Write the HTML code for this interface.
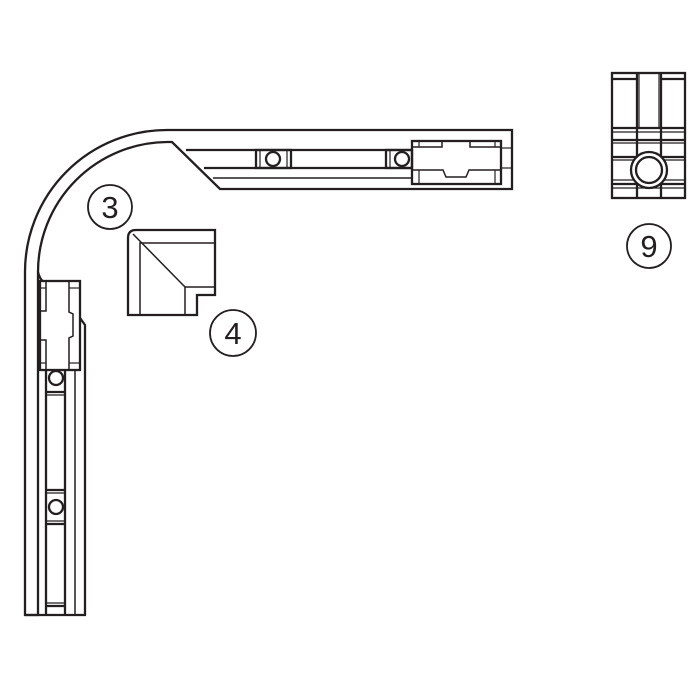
<!DOCTYPE html>
<html><head><meta charset="utf-8"><style>body{margin:0;background:#fff}svg{display:block}</style></head><body>
<svg width="700" height="700" viewBox="0 0 700 700" xmlns="http://www.w3.org/2000/svg" fill="none" stroke="#231f20" stroke-width="2.3">
<!-- bend outer -->
<path d="M25,615 L25,272 A142,142 0 0 1 167,130 L512,130 L512,189 L220,189 L172,142 L167,142 A130,130 0 0 0 38,272 L38,615 Z"/>
<line x1="25" y1="615" x2="86" y2="615"/>
<path d="M38,272 Q40,280 44,282"/>
<!-- top track internals -->
<line x1="186" y1="150" x2="412" y2="150"/>
<line x1="204" y1="168" x2="412" y2="168"/>
<line x1="213" y1="178" x2="412" y2="178" stroke-width="1.5"/>
<rect x="256" y="150" width="35" height="18"/>
<line x1="260" y1="150" x2="260" y2="168" stroke-width="1.2"/>
<line x1="287" y1="150" x2="287" y2="168" stroke-width="1.2"/>
<circle cx="273" cy="159" r="7"/>
<rect x="386" y="150" width="26" height="18"/>
<line x1="390" y1="150" x2="390" y2="168" stroke-width="1.2"/>
<circle cx="402" cy="159" r="7"/>
<!-- top connector -->
<rect x="412" y="141" width="89" height="43"/>
<path d="M412,147 L442,147 L442,141 M470,141 L470,147 L501,147" stroke-width="1.5"/>
<path d="M412,170 L443,170 L446,177 L466,177 L469,170 L501,170" stroke-width="1.5"/>
<line x1="419" y1="141" x2="419" y2="147" stroke-width="1.2"/>
<line x1="419" y1="170" x2="419" y2="184" stroke-width="1.2"/>
<line x1="495" y1="141" x2="495" y2="147" stroke-width="1.2"/>
<line x1="495" y1="170" x2="495" y2="184" stroke-width="1.2"/>
<line x1="501" y1="148" x2="512" y2="148" stroke-width="1.2"/>
<line x1="501" y1="168" x2="512" y2="168" stroke-width="1.2"/>
<!-- left vertical internals -->
<path d="M80,318 L85,325 L85,615"/>
<line x1="46" y1="370" x2="46" y2="615"/>
<line x1="65" y1="370" x2="65" y2="615"/>
<line x1="75" y1="370" x2="75" y2="615" stroke-width="1.5"/>
<circle cx="56" cy="378" r="7"/>
<line x1="47" y1="392" x2="64" y2="392"/><line x1="47" y1="395" x2="64" y2="395" stroke-width="1.2"/>
<line x1="47" y1="490" x2="64" y2="490"/><line x1="47" y1="493" x2="64" y2="493" stroke-width="1.2"/>
<circle cx="56" cy="507" r="7"/>
<line x1="47" y1="521" x2="64" y2="521" stroke-width="1.2"/><line x1="47" y1="524" x2="64" y2="524"/>
<line x1="47" y1="603" x2="64" y2="603" stroke-width="1.2"/><line x1="47" y1="606" x2="64" y2="606"/>
<!-- left connector -->
<rect x="40" y="281" width="40" height="89" fill="#fff"/>
<path d="M46,281 L46,311 L40,311 M40,340 L46,340 L46,370" stroke-width="1.5"/>
<path d="M69,281 L69,312 L73,314 L73,336 L69,338 L69,370" stroke-width="1.5"/>
<line x1="40" y1="288" x2="46" y2="288" stroke-width="1.2"/>
<line x1="69" y1="288" x2="80" y2="288" stroke-width="1.2"/>
<line x1="40" y1="363" x2="46" y2="363" stroke-width="1.2"/>
<line x1="69" y1="363" x2="80" y2="363" stroke-width="1.2"/>
<!-- piece 4 -->
<path d="M136,230 L215,230 L215,295 L197,295 L197,315 L128,315 L128,238 Q128,230 136,230 Z"/>
<line x1="133" y1="234" x2="185" y2="287" stroke-width="1.5"/>
<path d="M140,315 L140,243 L215,243" stroke-width="1.5"/>
<path d="M185,315 L185,287 L197,287 M197,287 L215,287" stroke-width="1.5"/>
<!-- piece 9 -->
<rect x="612" y="73" width="73" height="125"/>
<line x1="612" y1="79" x2="637" y2="79"/><line x1="661" y1="79" x2="685" y2="79"/>
<line x1="637" y1="73" x2="637" y2="198"/><line x1="639" y1="73" x2="639" y2="128" stroke-width="1.2"/>
<line x1="661" y1="73" x2="661" y2="198"/><line x1="659" y1="73" x2="659" y2="128" stroke-width="1.2"/>
<line x1="612" y1="128" x2="685" y2="128"/><line x1="612" y1="132" x2="685" y2="132" stroke-width="1.2"/>
<line x1="612" y1="140" x2="685" y2="140"/><line x1="612" y1="143" x2="685" y2="143" stroke-width="1.2"/>
<line x1="612" y1="157" x2="685" y2="157"/><line x1="612" y1="160" x2="685" y2="160" stroke-width="1.2"/>
<line x1="612" y1="180" x2="685" y2="180" stroke-width="1.2"/><line x1="612" y1="184" x2="685" y2="184"/>
<line x1="612" y1="188" x2="685" y2="188" stroke-width="1.2"/>
<circle cx="649" cy="170" r="18" fill="#fff"/>
<circle cx="649" cy="170" r="13"/>
<!-- labels -->
<g stroke-width="1.8">
<circle cx="110" cy="207" r="22"/>
<circle cx="233" cy="333" r="23"/>
<circle cx="649" cy="246" r="22"/>
</g>
<g fill="#231f20" stroke="none" font-family="Liberation Sans, sans-serif" font-size="31" text-anchor="middle">
<text x="110" y="218">3</text>
<text x="233" y="344">4</text>
<text x="649" y="257">9</text>
</g>
</svg>
</body></html>
